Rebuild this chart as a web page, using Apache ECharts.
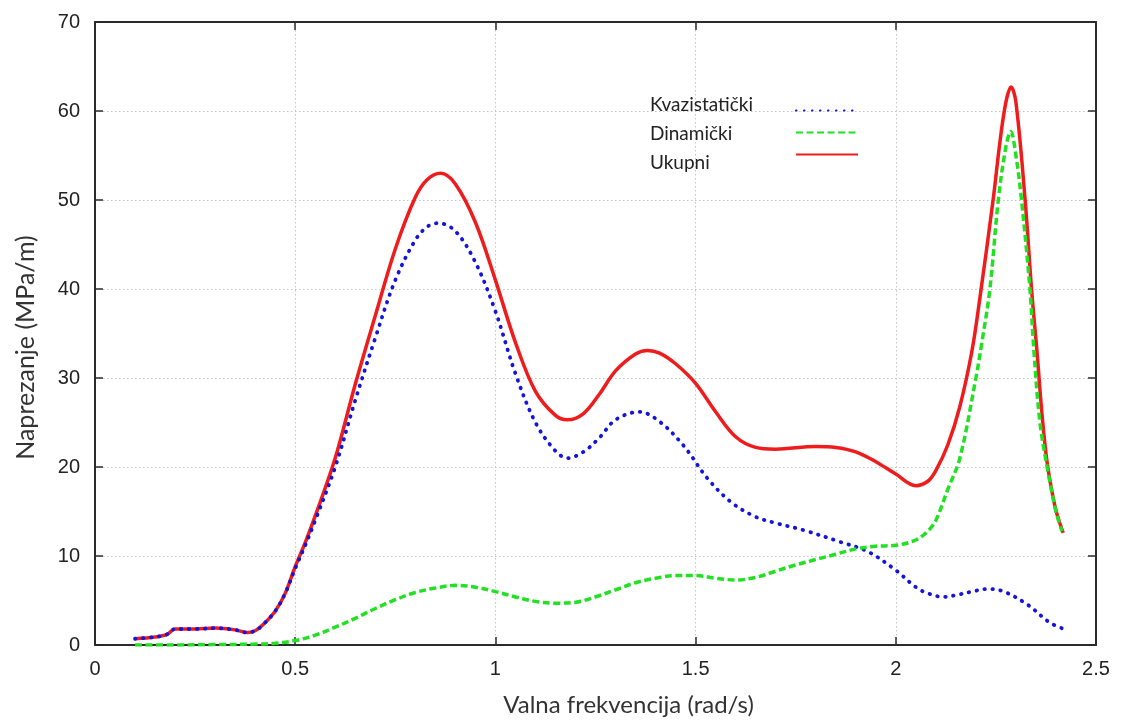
<!DOCTYPE html>
<html>
<head>
<meta charset="utf-8">
<script src="https://cdn.jsdelivr.net/npm/echarts@6/dist/echarts.min.js"></script>
<style>
  html, body { margin: 0; padding: 0; background: #fff; }
  #chart { width: 1122px; height: 722px; }
</style>
</head>
<body>
<div id="chart"></div>
<script>
// ---- Data ----
const seriesNames = ['Kvazistatički', 'Dinamički', 'Ukupni'];

const xTicks = [0, 0.5, 1, 1.5, 2, 2.5];
const yTicks = [0, 10, 20, 30, 40, 50, 60, 70];

const kvazistatickiX = [0.10,0.15,0.18,0.20,0.25,0.30,0.35,0.38,0.40,0.42,0.45,0.475,0.50,0.525,0.55,0.60,0.65,0.70,0.75,0.80,0.83,0.857,0.90,0.95,1.00,1.05,1.10,1.15,1.18,1.22,1.26,1.30,1.36,1.41,1.47,1.53,1.59,1.65,1.70,1.77,1.86,1.93,2.00,2.05,2.08,2.12,2.15,2.20,2.23,2.27,2.33,2.385,2.42];
const kvazistatickiY = [0.7,0.9,1.2,1.8,1.8,1.9,1.7,1.4,1.6,2.3,3.8,5.8,8.6,11.2,14.0,20.0,27.5,34.5,41,45.5,47,47.4,46.5,43,37.5,30.5,25,21.8,21.0,21.7,23.3,25.3,26.2,25.1,22.4,18.7,16.0,14.4,13.7,12.9,11.6,10.5,8.4,6.5,5.8,5.4,5.6,6.1,6.3,6.0,4.5,2.5,1.8];

const dinamickiX = [0.10,0.20,0.30,0.40,0.45,0.50,0.55,0.60,0.65,0.70,0.75,0.80,0.85,0.90,0.95,1.00,1.05,1.10,1.15,1.20,1.25,1.30,1.35,1.40,1.45,1.50,1.55,1.60,1.65,1.70,1.75,1.80,1.85,1.90,1.95,2.00,2.05,2.08,2.10,2.13,2.16,2.20,2.215,2.235,2.256,2.275,2.287,2.30,2.314,2.335,2.345,2.36,2.38,2.40,2.415];
const dinamickiY = [0,0,0.05,0.1,0.2,0.5,1.1,2.0,3.0,4.1,5.1,5.9,6.4,6.7,6.5,6.0,5.4,4.9,4.7,4.8,5.4,6.2,7.0,7.5,7.8,7.8,7.5,7.3,7.6,8.3,9.0,9.6,10.2,10.8,11.1,11.2,11.8,12.8,14.0,17.5,21,30,34,40,50,56,57.7,55,50,40,33,25,19.5,15,12.8];

const ukupniX = [0.10,0.15,0.18,0.20,0.25,0.30,0.35,0.38,0.40,0.42,0.45,0.475,0.50,0.525,0.55,0.60,0.65,0.70,0.75,0.80,0.83,0.863,0.90,0.95,1.00,1.05,1.10,1.15,1.18,1.22,1.26,1.30,1.35,1.38,1.41,1.45,1.50,1.55,1.60,1.65,1.70,1.80,1.85,1.90,1.95,2.00,2.05,2.08,2.10,2.13,2.16,2.19,2.21,2.243,2.26,2.275,2.288,2.30,2.323,2.339,2.352,2.365,2.378,2.398,2.418];
const ukupniY = [0.7,0.9,1.2,1.8,1.8,1.9,1.7,1.4,1.6,2.3,3.8,5.8,8.8,11.5,14.5,21,29.3,37,44.5,50.3,52.3,53.0,51.8,47.5,41,34,28.5,25.8,25.3,26,28.2,30.8,32.7,33.1,32.8,31.6,29.4,26.2,23.4,22.2,22.0,22.3,22.2,21.7,20.6,19.2,17.9,18.4,19.6,22.5,26.8,33,39,50,56.5,61,62.7,61,50,40,33.3,26,20.5,15.5,12.6];

const zip = (xs, ys) => xs.map((x, i) => [x, ys[i]]);

const tickFont = '"Liberation Sans", Arial, sans-serif';
const textFont = 'Lato, "Open Sans", sans-serif';
const axisColor = '#2b2b2b';

const chart = echarts.init(document.getElementById('chart'), null, { renderer: 'canvas' });

const baseAxis = {
  type: 'value',
  axisLine: { show: true, onZero: false, lineStyle: { color: axisColor, width: 2 } },
  axisTick: { show: true, inside: true, length: 8, lineStyle: { color: axisColor, width: 1.5 } },
};

chart.setOption({
  animation: false,
  backgroundColor: '#ffffff',
  grid: { left: 95, right: 26, top: 22, bottom: 75 },
  legend: [
    {
      // text column of the key
      orient: 'vertical',
      left: 633,
      top: 90,
      align: 'left',
      itemWidth: 1,
      itemHeight: 16,
      itemGap: 10,
      data: seriesNames,
      itemStyle: { opacity: 0 },
      lineStyle: { opacity: 0 },
      textStyle: { fontFamily: textFont, fontSize: 19, color: '#222' }
    },
    {
      // sample-line column of the key
      orient: 'vertical',
      left: 790,
      top: 96,
      align: 'left',
      itemWidth: 62,
      itemHeight: 16,
      itemGap: 3,
      data: seriesNames,
      itemStyle: { opacity: 0 },
      formatter: function () { return ' '; },
      textStyle: { fontFamily: textFont, fontSize: 19, color: '#222' }
    }
  ],
  xAxis: [
    Object.assign({}, baseAxis, {
      min: xTicks[0], max: xTicks[xTicks.length - 1], interval: 0.5,
      position: 'bottom',
      name: 'Valna frekvencija (rad/s)',
      nameLocation: 'middle',
      nameGap: 48,
      nameTextStyle: { fontFamily: textFont, fontSize: 24, color: '#333', padding: [0, 0, 0, 66] },
      axisLabel: { fontFamily: tickFont, fontSize: 20, color: '#222', margin: 14 },
      splitLine: { show: true, lineStyle: { color: '#c4c4c4', width: 1, type: [1.5, 2.5] } }
    }),
    Object.assign({}, baseAxis, {
      min: xTicks[0], max: xTicks[xTicks.length - 1], interval: 0.5,
      position: 'top',
      axisLabel: { show: false },
      splitLine: { show: false }
    })
  ],
  yAxis: [
    Object.assign({}, baseAxis, {
      min: yTicks[0], max: yTicks[yTicks.length - 1], interval: 10,
      position: 'left',
      name: 'Naprezanje (MPa/m)',
      nameLocation: 'middle',
      nameGap: 57,
      nameTextStyle: { fontFamily: textFont, fontSize: 25, color: '#333', padding: [0, 28, 0, 0] },
      axisLabel: { fontFamily: tickFont, fontSize: 20, color: '#222', margin: 15 },
      splitLine: { show: true, lineStyle: { color: '#c4c4c4', width: 1, type: [1.5, 2.5] } }
    }),
    Object.assign({}, baseAxis, {
      min: yTicks[0], max: yTicks[yTicks.length - 1], interval: 10,
      position: 'right',
      axisLabel: { show: false },
      splitLine: { show: false }
    })
  ],
  series: [
    {
      name: seriesNames[0],
      type: 'line',
      data: zip(kvazistatickiX, kvazistatickiY),
      smooth: 0.35,
      symbol: 'none',
      z: 3,
      lineStyle: { color: '#1414dc', width: 3.8, type: [0.5, 7.5], cap: 'round' },
      itemStyle: { color: '#1414dc' }
    },
    {
      name: seriesNames[1],
      type: 'line',
      data: zip(dinamickiX, dinamickiY),
      smooth: 0.35,
      symbol: 'none',
      z: 4,
      lineStyle: { color: '#22e022', width: 3.5, type: [7, 3.5] },
      itemStyle: { color: '#22e022' }
    },
    {
      name: seriesNames[2],
      type: 'line',
      data: zip(ukupniX, ukupniY),
      smooth: 0.35,
      symbol: 'none',
      z: 2,
      lineStyle: { color: '#ee1c1c', width: 3.5 },
      itemStyle: { color: '#ee1c1c' }
    }
  ]
});
</script>
</body>
</html>
